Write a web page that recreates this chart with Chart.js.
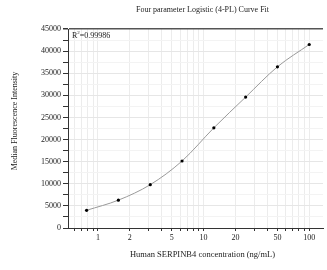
<!DOCTYPE html>
<html>
<head>
<meta charset="utf-8">
<script src="https://cdn.jsdelivr.net/npm/chart.js@4.4.0/dist/chart.umd.min.js"></script>
<style>
  html, body { margin: 0; padding: 0; background: #fff; }
  #wrap { width: 327px; height: 270px; position: relative; }
</style>
</head>
<body>
<div id="wrap"><canvas id="chart"></canvas></div>
<script>
// Standard curve data (concentration in ng/mL vs MFI)
const concentrations = [0.78, 1.56, 3.125, 6.25, 12.5, 25, 50, 100];
const mfiValues = [4000, 6300, 9800, 15150, 22650, 29600, 36450, 41500];

// Axis ticks
const xTickValues = [0.6, 0.7, 0.8, 0.9, 1, 2, 3, 4, 5, 6, 7, 8, 9,
  10, 20, 30, 40, 50, 60, 70, 80, 90, 100];
const xTickLabels = [1, 2, 5, 10, 20, 50, 100];
const yLabelStep = 5000;

const chartTitle = 'Four parameter Logistic (4-PL) Curve Fit';
const xTitle = 'Human SERPINB4 concentration (ng/mL)';
const yTitle = 'Median Fluorescence Intensity';
const rSquared = '0.99986';
const serif = "'Liberation Serif', 'Times New Roman', serif";

// Titles and the R² note, placed like the original plot
const annotations = {
  id: 'annotations',
  afterDraw(chart) {
    const { ctx, chartArea } = chart;
    const midX = (chartArea.left + chartArea.right) / 2 + 7;
    ctx.save();
    ctx.fillStyle = '#222';
    ctx.textBaseline = 'middle';
    ctx.textAlign = 'center';

    ctx.font = '8px ' + serif;
    ctx.fillText(chartTitle, midX, 10);

    ctx.font = '8.5px ' + serif;
    ctx.fillText(xTitle, midX, 255);

    ctx.save();
    ctx.translate(15, 121);
    ctx.rotate(-Math.PI / 2);
    ctx.font = '8px ' + serif;
    ctx.fillText(yTitle, 0, 0);
    ctx.restore();

    // R² text
    ctx.textAlign = 'left';
    let x = chartArea.left + 4;
    const y = chartArea.top + 7;
    ctx.font = '8px ' + serif;
    ctx.fillText('R', x, y);
    x += ctx.measureText('R').width;
    ctx.font = '5px ' + serif;
    ctx.fillText('2', x, y - 3);
    x += ctx.measureText('2').width;
    ctx.font = '8px ' + serif;
    ctx.fillText('=' + rSquared, x, y);
    ctx.restore();
  }
};

const chart = new Chart(document.getElementById('chart'), {
  type: 'line',
  data: {
    datasets: [{
      label: 'MFI',
      data: concentrations.map((c, i) => ({ x: c, y: mfiValues[i] })),
      borderColor: '#9a9a9a',
      borderWidth: 1,
      cubicInterpolationMode: 'monotone',
      pointRadius: 1.6,
      pointBackgroundColor: '#000',
      pointBorderColor: '#000',
      pointBorderWidth: 0,
      fill: false
    }]
  },
  options: {
    responsive: true,
    maintainAspectRatio: false,
    animation: false,
    layout: { padding: { left: 0, right: 0, top: 29, bottom: 0 } },
    plugins: {
      legend: { display: false },
      tooltip: { enabled: false },
      title: { display: false }
    },
    scales: {
      x: {
        type: 'logarithmic',
        min: 0.52,
        max: 135,
        afterBuildTicks: scale => {
          scale.ticks = xTickValues.map(v => ({ value: v }));
        },
        afterFit: scale => { scale.height = 42; },
        border: { color: '#333', width: 1 },
        grid: {
          color: '#ececec',
          tickColor: '#333',
          tickLength: 3
        },
        ticks: {
          autoSkip: false,
          maxRotation: 0,
          color: '#222',
          padding: 2,
          font: { family: serif, size: 8 },
          callback: v => xTickLabels.includes(v) ? String(v) : ''
        }
      },
      y: {
        min: 0,
        max: 45000,
        afterFit: scale => { scale.width = 68; },
        border: { color: '#333', width: 1 },
        grid: {
          color: ctx => {
            const v = ctx.tick ? ctx.tick.value : 0;
            if (v === 45000) return '#555';
            return v % yLabelStep === 0 ? '#e6e6e6' : '#f3f3f3';
          },
          lineWidth: ctx => (ctx.tick && ctx.tick.value === 45000) ? 1.5 : 1,
          tickColor: '#333',
          tickLength: 5
        },
        ticks: {
          stepSize: 2500,
          autoSkip: false,
          color: '#222',
          padding: 2,
          font: { family: serif, size: 8 },
          callback: v => v % yLabelStep === 0 ? String(v) : ''
        }
      }
    }
  },
  plugins: [annotations]
});
</script>
</body>
</html>
